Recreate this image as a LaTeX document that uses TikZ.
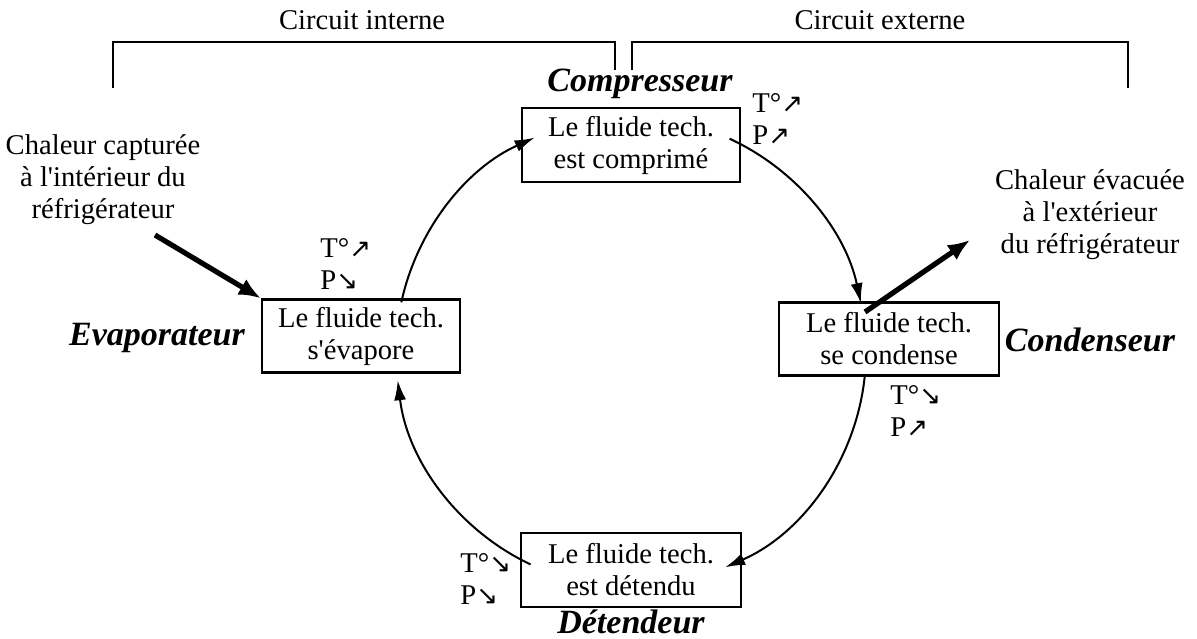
\documentclass[tikz,border=0pt]{standalone}
\usepackage{fontspec}
\setmainfont{Liberation Serif}[Ligatures=TeXOff]
\newfontfamily\arrowfont{DejaVu Sans}
\usetikzlibrary{arrows.meta,calc}
\newcommand{\up}{{\arrowfont\fontsize{13}{13}\selectfont ↗}}
\newcommand{\dn}{{\arrowfont\fontsize{13}{13}\selectfont ↘}}
\begin{document}
\begin{tikzpicture}[x=0.5pt,y=0.5pt,
  txt/.style={font=\fontsize{14.3}{16}\selectfont, align=center, inner sep=0pt},
  box/.style={txt, draw, line width=1.2pt, minimum height=37pt},
  lbl/.style={font=\fontsize{17}{20}\selectfont\bfseries\itshape, inner sep=0pt},
  tp/.style={txt, align=left, anchor=west},
  cyc/.style={line width=1pt, -{Latex[length=10pt,width=6pt]}},
  heat/.style={line width=2.6pt, -{Latex[length=11pt,width=9pt]}},
  brk/.style={line width=1.1pt}]
\useasboundingbox (0,0) rectangle (1197,638);
% brackets
\coordinate (b1) at (113,550); \coordinate (b2) at (113,596);
\coordinate (b3) at (615,596); \coordinate (b4) at (615,568);
\coordinate (b5) at (632,568); \coordinate (b6) at (632,596);
\coordinate (b7) at (1128,596); \coordinate (b8) at (1128,550);
\draw[brk] (b1) -- (b2) -- (b3) -- (b4);
\draw[brk] (b5) -- (b6) -- (b7) -- (b8);
\node[txt] (ci) at (362,618) {Circuit interne};
\node[txt] (ce) at (880,618) {Circuit externe};
% boxes
\node[box, minimum width=109pt] (comp) at (631,493) {Le fluide tech.\\est comprimé};
\node[box, minimum width=99pt, minimum height=36.5pt] (evap) at (361,302) {Le fluide tech.\\s'évapore};
\node[box, minimum width=110pt, minimum height=36.5pt] (cond) at (889,299) {Le fluide tech.\\se condense};
\node[box, minimum width=110pt] (det) at (631,68) {Le fluide tech.\\est détendu};
% labels
\node[lbl] (lcomp) at (640,554) {Compresseur};
\node[lbl] (levap) at (157,300) {Evaporateur};
\node[lbl] (lcond) at (1090,298) {Condenseur};
\node[lbl] (ldet) at (631,16) {Détendeur};
% T/P
\node[tp] (tpc) at (752,519) {T°\up\\P\up};
\node[tp] (tpe) at (320,374) {T°\up\\P\dn};
\node[tp] (tpk) at (890,227) {T°\dn\\P\up};
\node[tp] (tpd) at (460,59) {T°\dn\\P\dn};
% heat texts
\node[txt] (hl) at (103,458) {Chaleur capturée\\à l'intérieur du\\réfrigérateur};
\node[txt] (hr) at (1090,423) {Chaleur évacuée\\à l'extérieur\\du réfrigérateur};
\coordinate (hin) at (155,403);
\coordinate (hos) at (865,326);
\coordinate (hoe) at (970,398);
\draw[heat] (hin) -- (evap.north west);
\draw[heat] (hos) -- (hoe);
% cycle
\coordinate (ctr) at (631,286);
\coordinate (a1) at ($(ctr)+(167.8:235)$);
\coordinate (a2) at ($(ctr)+(65.2:235)$);
\coordinate (a3) at ($(ctr)+(-5.9:235)$);
\coordinate (a4) at ($(ctr)+(244.7:235)$);
\draw[cyc] (a1) arc[start angle=167.8, end angle=114.2, radius=117.5pt];
\draw[cyc] (a2) arc[start angle=65.2, end angle=12.0, radius=117.5pt];
\draw[cyc] (a3) arc[start angle=-5.9, end angle=-66.4, radius=117.5pt];
\draw[cyc] (a4) arc[start angle=244.7, end angle=186.9, radius=117.5pt];
\end{tikzpicture}
\end{document}
